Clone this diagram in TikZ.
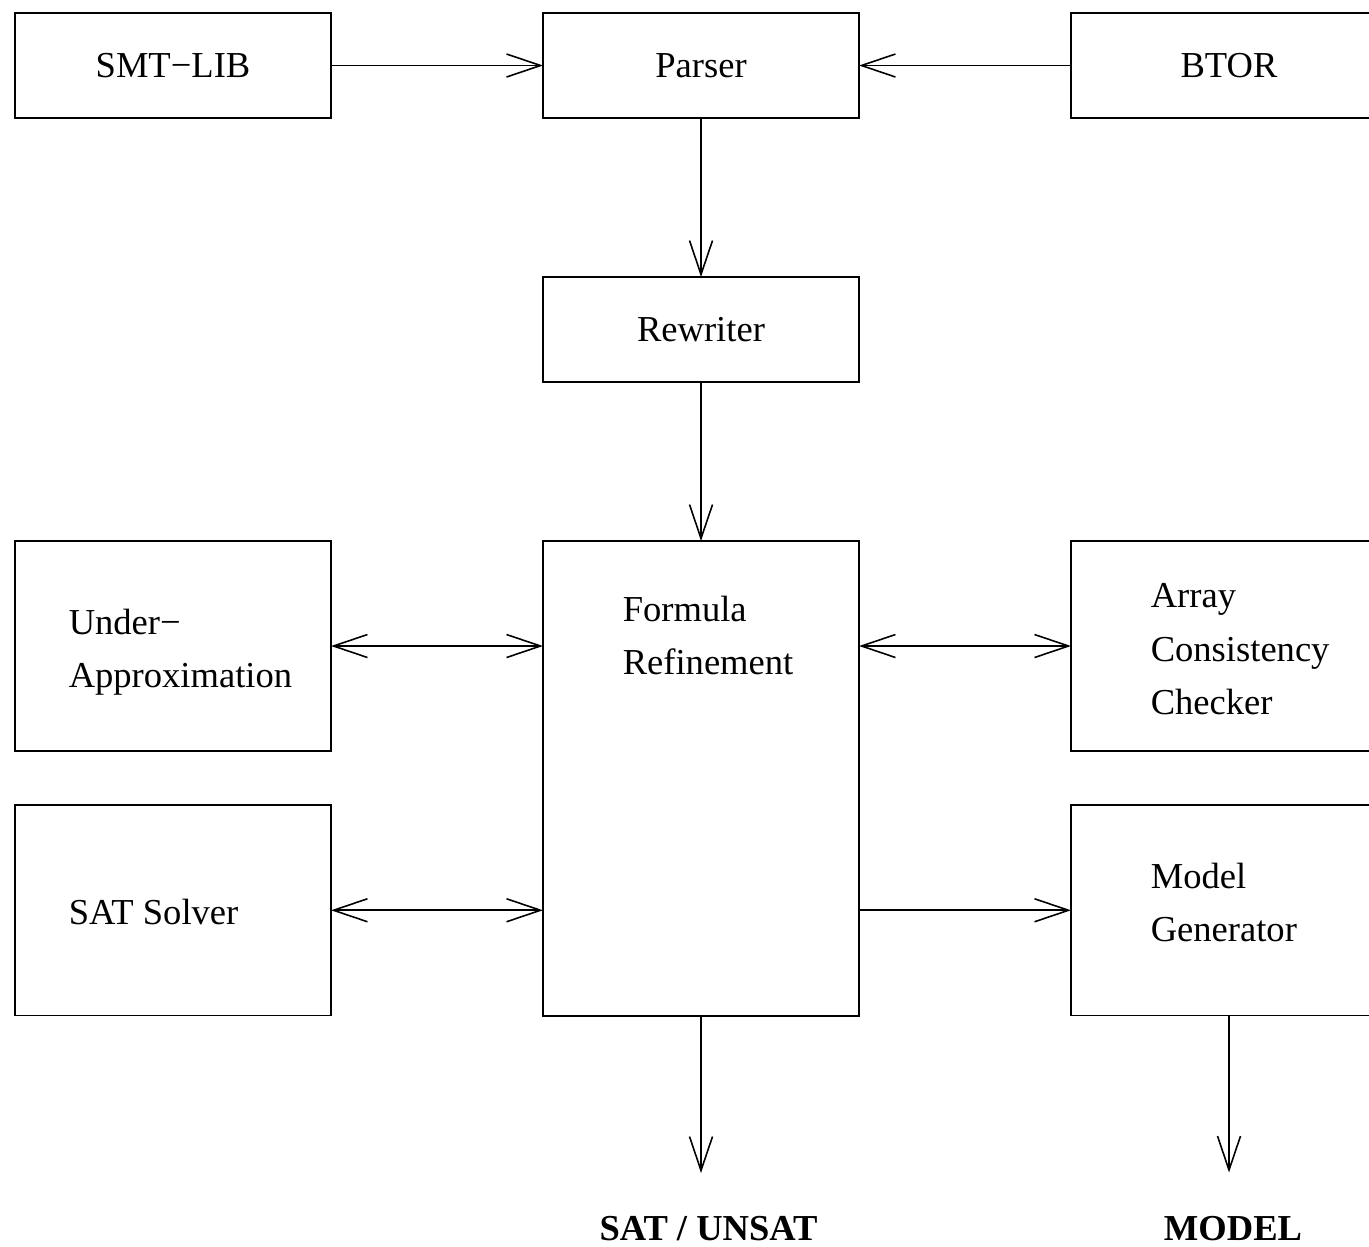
\documentclass[tikz,border=0pt]{standalone}
\usepackage{fontspec}
\setmainfont{Liberation Serif}
\usetikzlibrary{arrows.meta,positioning,calc}

\begin{document}
\begin{tikzpicture}[
        font=\fontsize{10.4}{15.1}\selectfont,
        line width=0.45pt,
        node distance=2.12cm,
        box/.style={rectangle,draw,outer sep=0pt,inner sep=0pt,minimum width=3.16cm,minimum height=1.05cm},
        tallbox/.style={box,minimum height=2.105cm},
        boxtext/.style={anchor=north west,inner sep=0pt,align=left},
        result/.style={font=\fontsize{10.4}{15.1}\selectfont\bfseries,anchor=base,inner sep=0pt},
        arr/.style={-{Straight Barb[length=3.4mm,width=2.3mm]}},
        arrboth/.style={{Straight Barb[length=3.4mm,width=2.3mm]}-{Straight Barb[length=3.4mm,width=2.3mm]}}
    ]
        \useasboundingbox (0,0) rectangle (13.69,-12.46);

        % input row
        \node[box] (smtlib) at (1.73,-0.655) {SMT−LIB};
        \node[box,right=of smtlib] (parser) {Parser};
        \node[box,right=of parser] (btor) {BTOR};
        \node[box,below=1.59cm of parser] (rewriter) {Rewriter};
        \node[box,below=1.59cm of rewriter,minimum height=4.75cm] (formula) {};

        % side boxes
        \node[tallbox,left=of formula.north west,anchor=north east,minimum height=2.10cm] (under) {};
        \node[tallbox,below=0.54cm of under] (sat) {};
        \node[tallbox,right=of formula.north east,anchor=north west,minimum height=2.10cm] (array) {};
        \node[tallbox,below=0.54cm of array] (model) {};

        % box texts
        \node[boxtext] (formulatxt) at ($(formula.north west)+(0.79,-0.54)$) {Formula\\Refinement};
        \node[boxtext] (undertxt) at ($(under.north west)+(0.53,-0.67)$) {Under−\\Approximation};
        \node[boxtext] (sattxt) at ($(sat.north west)+(0.53,-0.93)$) {SAT Solver};
        \node[boxtext] (arraytxt) at ($(array.north west)+(0.79,-0.42)$) {Array\\Consistency\\Checker};
        \node[boxtext] (modeltxt) at ($(model.north west)+(0.79,-0.57)$) {Model\\Generator};

        % outputs
        \coordinate[below=1.57cm of formula.south] (satout);
        \coordinate[below=1.57cm of model.south] (modelout);
        \node[result] (satunsat) at (7.085,-12.40) {SAT / UNSAT};
        \node[result] (modelres) at (12.33,-12.40) {MODEL};

        \draw[arr] (smtlib) -- (parser);
        \draw[arr] (btor) -- (parser);
        \draw[arr] (parser) -- (rewriter);
        \draw[arr] (rewriter) -- (formula);
        \draw[arrboth] (under) -- (under -| formula.west);
        \draw[arrboth] (sat) -- (sat -| formula.west);
        \draw[arrboth] (formula.east |- array) -- (array);
        \draw[arr] (formula.east |- model) -- (model);
        \draw[arr] (formula) -- (satout);
        \draw[arr] (model) -- (modelout);
    \end{tikzpicture}
\end{document}
